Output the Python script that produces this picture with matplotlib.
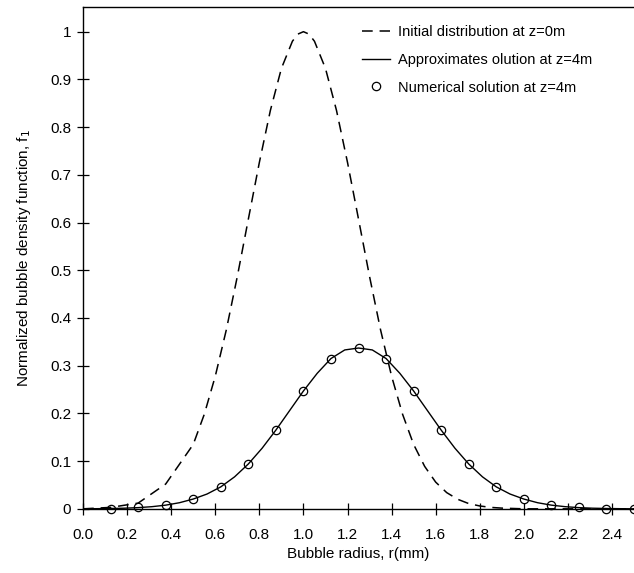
import numpy as np
import matplotlib
matplotlib.use('Agg')
import matplotlib.pyplot as plt

plt.rcParams['font.family'] = ['Liberation Sans', 'DejaVu Sans']

# Initial distribution at z=0m (dashed)
r_init = [0.0, 0.125, 0.25, 0.375, 0.5, 0.55, 0.6, 0.65, 0.7, 0.75, 0.8, 0.85, 0.9, 0.95,
          0.975, 1.0, 1.025, 1.05, 1.1, 1.15, 1.2, 1.25, 1.3, 1.35, 1.4, 1.45, 1.5, 1.55,
          1.6, 1.65, 1.7, 1.75, 1.8, 1.85, 1.9, 2.0, 2.5]
f_init = [0.0, 0.003, 0.012, 0.052, 0.135, 0.198, 0.278, 0.375, 0.487, 0.607, 0.726, 0.835,
          0.923, 0.98, 0.995, 1.0, 0.995, 0.98, 0.923, 0.835, 0.726, 0.607, 0.487, 0.375,
          0.278, 0.198, 0.135, 0.089, 0.056, 0.034, 0.02, 0.011, 0.006, 0.003, 0.0015, 0.0, 0.0]

# Approximate solution at z=4m (solid line)
r_appr = [0.0, 0.0625, 0.125, 0.1875, 0.25, 0.3125, 0.375, 0.4375, 0.5, 0.5625, 0.625, 0.6875,
          0.75, 0.8125, 0.875, 0.9375, 1.0, 1.0625, 1.125, 1.1875, 1.25, 1.3125, 1.375, 1.4375,
          1.5, 1.5625, 1.625, 1.6875, 1.75, 1.8125, 1.875, 1.9375, 2.0, 2.0625, 2.125, 2.1875,
          2.25, 2.3125, 2.375, 2.4375, 2.5]
f_appr = [0.0, 0.0003, 0.0007, 0.0013, 0.0025, 0.0045, 0.0077, 0.0128, 0.0205, 0.031, 0.046, 0.067,
          0.094, 0.127, 0.165, 0.206, 0.247, 0.284, 0.315, 0.333, 0.337, 0.333, 0.315, 0.284,
          0.247, 0.206, 0.165, 0.127, 0.094, 0.067, 0.046, 0.031, 0.0205, 0.0128, 0.0077, 0.0045,
          0.0025, 0.0013, 0.0007, 0.0003, 0.0]

# Numerical solution at z=4m (circles)
r_num = [0.125, 0.25, 0.375, 0.5, 0.625, 0.75, 0.875, 1.0, 1.125, 1.25, 1.375, 1.5, 1.625,
         1.75, 1.875, 2.0, 2.125, 2.25, 2.375, 2.5]
f_num = [0.0, 0.003, 0.007, 0.02, 0.046, 0.094, 0.165, 0.247, 0.313, 0.337, 0.313, 0.246, 0.165,
         0.094, 0.046, 0.02, 0.007, 0.003, 0.0, 0.0]

x_ticks = [0.0, 0.2, 0.4, 0.6, 0.8, 1.0, 1.2, 1.4, 1.6, 1.8, 2.0, 2.2, 2.4]
y_ticks = [0.0, 0.1, 0.2, 0.3, 0.4, 0.5, 0.6, 0.7, 0.8, 0.9, 1.0]
y_labels = ['0', '0.1', '0.2', '0.3', '0.4', '0.5', '0.6', '0.7', '0.8', '0.9', '1']

fig = plt.figure(figsize=(6.34, 5.73), dpi=100)
ax = fig.add_axes([0.131, 0.112, 0.869, 0.876])

ax.plot(r_init, f_init, color='black', lw=1.1, linestyle=(0, (7, 4.5)),
        label='Initial distribution at z=0m')
ax.plot(r_appr, f_appr, color='black', lw=1.0, label='Approximates olution at z=4m')
ax.plot(r_num, f_num, linestyle='none', marker='o', markersize=6, markerfacecolor='none',
        markeredgecolor='black', markeredgewidth=0.9, label='Numerical solution at z=4m',
        clip_on=False)

ax.set_xlim(0, 2.5)
ax.set_ylim(0, 1.052)
ax.set_xticks(x_ticks)
ax.set_xticklabels([f'{v:.1f}' for v in x_ticks])
ax.set_yticks(y_ticks)
ax.set_yticklabels(y_labels)
ax.tick_params(direction='inout', length=9, width=0.9, labelsize=11)
ax.tick_params(axis='x', pad=9)
ax.tick_params(axis='y', pad=4)
ax.spines['right'].set_visible(False)
for s in ['left', 'bottom', 'top']:
    ax.spines[s].set_linewidth(1.0)

ax.set_xlabel('Bubble radius, r(mm)', fontsize=11, labelpad=4)
ax.set_ylabel('Normalized bubble density function, f$_1$', fontsize=11, labelpad=12)

ax.legend(loc='upper left', bbox_to_anchor=(0.506, 0.963), frameon=False, fontsize=10.5,
          handlelength=1.9, handletextpad=0.55, labelspacing=0.93,
          borderpad=0, borderaxespad=0)

fig.savefig('out.png', dpi=100)
